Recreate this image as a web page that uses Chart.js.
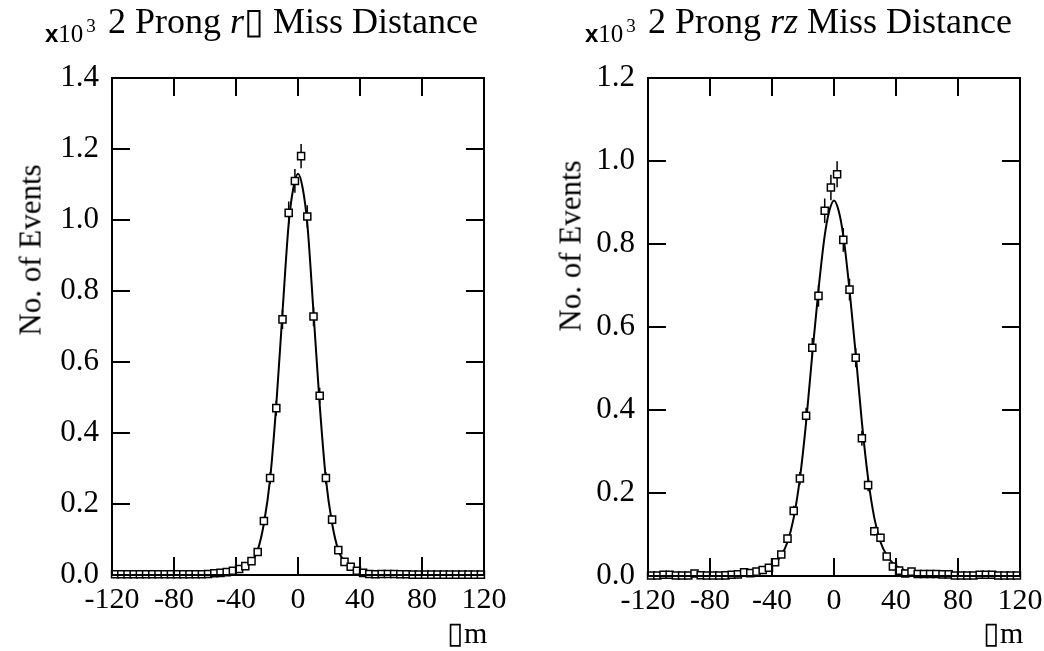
<!DOCTYPE html>
<html>
<head>
<meta charset="utf-8">
<script src="https://cdn.jsdelivr.net/npm/chart.js@4.4.1/dist/chart.umd.min.js"></script>
<style>
  body { margin: 0; background: #fff; }
  #wrap { position: relative; width: 1044px; height: 651px; font-family: 'Liberation Serif', serif; color: #000; }
  canvas { position: absolute; top: 0; }
  .lbl { position: absolute; white-space: nowrap; line-height: 1; }
  .title { font-size: 36px; }
  .mult { font-size: 25px; }
  .mult b { font-family: 'Liberation Sans', sans-serif; font-size: 24px; }
  .mult span { font-size: 19px; position: relative; top: -10px; margin-left: 3px; }
  .ytitle { font-size: 31px; transform: translate(-50%, -50%) rotate(-90deg); }
  .unit { font-size: 30px; }
</style>
</head>
<body>
<div id="wrap">
  <canvas id="chart-0" width="522" height="651" style="left:0"></canvas>
  <canvas id="chart-1" width="522" height="651" style="left:522px"></canvas>

  <div class="lbl mult" style="left:45px;top:21px"><b>x</b>10<span>3</span></div>
  <div class="lbl title" style="left:108px;top:3px">2 Prong <i>r</i>▯ Miss Distance</div>
  <div class="lbl ytitle" style="left:30px;top:250px">No. of Events</div>
  <div class="lbl unit" style="left:447px;top:618px">▯m</div>

  <div class="lbl mult" style="left:585px;top:21px"><b>x</b>10<span>3</span></div>
  <div class="lbl title" style="left:648px;top:3px">2 Prong <i>rz</i> Miss Distance</div>
  <div class="lbl ytitle" style="left:570px;top:246px">No. of Events</div>
  <div class="lbl unit" style="left:983px;top:618px">▯m</div>
</div>
<script>
// bin centres of the histograms (µm)
const binCenters = [
  -118, -114, -110, -106, -102, -98, -94, -90, -86, -82,
  -78, -74, -70, -66, -62, -58, -54, -50, -46, -42,
  -38, -34, -30, -26, -22, -18, -14, -10, -6, -2,
  2, 6, 10, 14, 18, 22, 26, 30, 34, 38,
  42, 46, 50, 54, 58, 62, 66, 70, 74, 78,
  82, 86, 90, 94, 98, 102, 106, 110, 114, 118
]

// events per bin, x10^3
const rphiCounts = [
  0.002, 0.002, 0.002, 0.002, 0.002, 0.002, 0.002, 0.002, 0.002, 0.002,
  0.002, 0.002, 0.002, 0.002, 0.002, 0.003, 0.005, 0.006, 0.008, 0.012,
  0.017, 0.025, 0.039, 0.065, 0.152, 0.273, 0.470, 0.720, 1.020, 1.110,
  1.180, 1.010, 0.728, 0.505, 0.273, 0.156, 0.070, 0.037, 0.023, 0.012,
  0.006, 0.003, 0.002, 0.003, 0.003, 0.003, 0.002, 0.002, 0.001, 0.001,
  0.001, 0.001, 0.001, 0.001, 0.001, 0.001, 0.001, 0.001, 0.001, 0.001
]

const rzCounts = [
  0.001, 0.001, 0.003, 0.003, 0.001, 0.001, 0.001, 0.006, 0.002, 0.001,
  0.001, 0.001, 0.0015, 0.003, 0.004, 0.009, 0.007, 0.0105, 0.0145, 0.020,
  0.033, 0.052, 0.090, 0.157, 0.235, 0.386, 0.550, 0.675, 0.880, 0.936,
  0.968, 0.810, 0.690, 0.526, 0.332, 0.219, 0.108, 0.092, 0.047, 0.023,
  0.013, 0.006, 0.0105, 0.005, 0.005, 0.005, 0.005, 0.004, 0.004, 0.001,
  0.001, 0.001, 0.001, 0.003, 0.003, 0.003, 0.001, 0.001, 0.001, 0.001
]

// fitted curves
const rphiFitX = [-120, -60, -52, -46, -42, -38, -34, -30, -26, -22, -18, -14, -10, -6, -3, 0, 3, 6, 10, 14, 18, 22, 26, 30, 34, 38, 42, 46, 52, 60, 120]
const rphiFitY = [0.001, 0.003, 0.004, 0.006, 0.009, 0.014, 0.022, 0.037, 0.070, 0.145, 0.270, 0.480, 0.740, 0.990, 1.090, 1.130, 1.090, 0.990, 0.740, 0.480, 0.270, 0.145, 0.070, 0.037, 0.022, 0.014, 0.009, 0.006, 0.004, 0.003, 0.001]

const rzFitX = [-120, -60, -52, -46, -42, -38, -34, -30, -26, -22, -18, -14, -10, -6, -3, 0, 3, 6, 10, 14, 18, 22, 26, 30, 34, 38, 42, 46, 52, 60, 120]
const rzFitY = [0.002, 0.005, 0.008, 0.013, 0.020, 0.031, 0.050, 0.082, 0.140, 0.235, 0.370, 0.535, 0.690, 0.820, 0.880, 0.905, 0.880, 0.820, 0.690, 0.535, 0.370, 0.235, 0.140, 0.082, 0.050, 0.031, 0.020, 0.013, 0.008, 0.005, 0.002]

const xTicks = [-120, -80, -40, 0, 40, 80, 120]

Chart.defaults.font.family = "'Liberation Serif', serif"
Chart.defaults.color = '#000'

// frame + inward ticks on all four sides, drawn over the data
const framePlugin = {
  id: 'frame',
  afterDraw(chart) {
    const { ctx, chartArea: a, scales } = chart
    const len = 18
    ctx.save()
    ctx.strokeStyle = '#000'
    ctx.lineWidth = 2
    ctx.strokeRect(a.left, a.top, a.right - a.left, a.bottom - a.top)
    ctx.beginPath()
    xTicks.forEach(v => {
      const px = scales.x.getPixelForValue(v)
      ctx.moveTo(px, a.bottom); ctx.lineTo(px, a.bottom - len)
      ctx.moveTo(px, a.top); ctx.lineTo(px, a.top + len)
    })
    scales.y.ticks.forEach(t => {
      const py = scales.y.getPixelForValue(t.value)
      ctx.moveTo(a.left, py); ctx.lineTo(a.left + len, py)
      ctx.moveTo(a.right, py); ctx.lineTo(a.right - len, py)
    })
    ctx.stroke()
    ctx.restore()
  }
}

// poisson error bars under the squares
const errorBarPlugin = {
  id: 'errbars',
  beforeDatasetsDraw(chart) {
    const { ctx, scales } = chart
    const ds = chart.data.datasets[1]
    ctx.save()
    ctx.strokeStyle = '#000'
    ctx.lineWidth = 1.5
    ctx.beginPath()
    ds.data.forEach(p => {
      const err = Math.sqrt(p.y * 1000) / 1000
      const px = scales.x.getPixelForValue(p.x)
      ctx.moveTo(px, scales.y.getPixelForValue(p.y + err))
      ctx.lineTo(px, scales.y.getPixelForValue(p.y - err))
    })
    ctx.stroke()
    ctx.restore()
  }
}

function createChart(chartIndex, counts, fitX, fitY, yMax, yAxisWidth, rightPad, xAxisHeight) {
  const config = {
    type: 'line',
    data: {
      datasets: [
        {
          label: 'fit',
          data: fitX.map((x, i) => ({ x, y: fitY[i] })),
          borderColor: '#000',
          borderWidth: 2,
          pointRadius: 0,
          cubicInterpolationMode: 'monotone',
          fill: false,
          order: 2
        },
        {
          label: 'data',
          data: binCenters.map((x, i) => ({ x, y: counts[i] })),
          showLine: false,
          pointStyle: 'rect',
          pointRadius: 5,
          pointBorderWidth: 1.5,
          pointBorderColor: '#000',
          pointBackgroundColor: '#fff',
          clip: false,
          order: 1
        }
      ]
    },
    options: {
      responsive: false,
      animation: false,
      events: [],
      layout: { padding: { top: 78, left: 0, right: rightPad, bottom: 0 } },
      plugins: { legend: { display: false }, tooltip: { enabled: false } },
      scales: {
        x: {
          type: 'linear',
          min: -120,
          max: 120,
          grid: { display: false, drawTicks: false },
          border: { display: false },
          afterBuildTicks: s => { s.ticks = xTicks.map(v => ({ value: v })) },
          ticks: { font: { size: 30 }, padding: 7, maxRotation: 0 },
          afterFit: s => { s.height = xAxisHeight; s.paddingLeft = 0; s.paddingRight = 0 }
        },
        y: {
          min: 0,
          max: yMax,
          grid: { display: false, drawTicks: false },
          border: { display: false },
          ticks: { stepSize: 0.2, font: { size: 31 }, padding: 13, callback: v => v.toFixed(1) },
          afterFit: s => { s.width = yAxisWidth; s.paddingTop = 0; s.paddingBottom = 0 }
        }
      }
    },
    plugins: [errorBarPlugin, framePlugin]
  }
  return new Chart(document.getElementById(`chart-${chartIndex}`), config)
}

createChart(0, rphiCounts, rphiFitX, rphiFitY, 1.4, 112, 38, 76)
createChart(1, rzCounts, rzFitX, rzFitY, 1.2, 126, 24, 75)
</script>
</body>
</html>
